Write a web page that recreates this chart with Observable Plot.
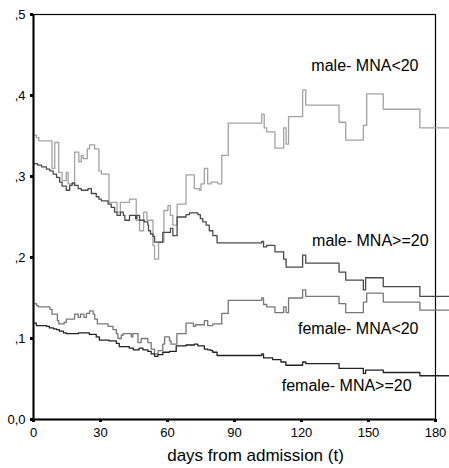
<!DOCTYPE html>
<html><head><meta charset="utf-8">
<script src="https://cdn.jsdelivr.net/npm/d3@7"></script>
<script src="https://cdn.jsdelivr.net/npm/@observablehq/plot@0.6"></script>
<style>
body{margin:0;background:#fff;}
#chart svg{display:block;}
</style>
</head><body><div id="chart"></div>
<script>
// Series names (as labelled in the chart)
const seriesNames = ["male- MNA<20", "male- MNA>=20", "female- MNA<20", "female- MNA>=20"];
const seriesColors = ["#a3a3a3", "#4a4a4a", "#777777", "#222222"];

// days from admission (t) and values for each curve (step functions)
const maleLowT = [0,1.3,2.4,8.3,9.5,11.3,12.8,14.7,15.5,18.4,20.3,21.4,22.2,24.1,25.1,27.4,29.3,30.4,33.8,37.4,38.9,43.0,46.0,47.5,49.3,50.8,53.5,54.2,56.0,58.4,60.2,61.3,62.4,64.3,68.3,72.0,74.3,75.0,76.5,78.0,79.5,82.5,84.3,87.2,102.2,103.3,104.4,108.1,112.0,113.1,114.2,120.5,121.9,136.8,139.8,147.7,149.2,156.6,173.0,186.2];
const maleLowV = [.351,.348,.344,.310,.342,.305,.295,.305,.291,.330,.318,.326,.322,.334,.339,.334,.307,.303,.268,.256,.268,.272,.246,.233,.256,.246,.215,.198,.219,.258,.264,.252,.240,.266,.302,.285,.283,.291,.310,.291,.293,.291,.326,.366,.377,.360,.355,.335,.360,.340,.374,.407,.388,.367,.345,.363,.402,.383,.360,.360];

const maleHighT = [0,1.8,3.6,5.8,7.3,8.8,10.3,11.7,12.8,14.7,16.2,17.3,18.4,20.0,21.4,24.4,25.9,28.1,29.3,30.4,33.4,34.8,36.3,37.4,38.9,40.2,40.9,43.0,45.7,46.3,47.5,49.6,51.2,51.5,52.4,53.5,54.2,57.9,61.3,62.4,64.3,68.3,69.8,73.6,74.7,75.8,77.3,78.7,80.3,82.2,102.2,103.0,104.4,108.1,112.0,113.1,120.5,121.9,136.8,139.8,147.7,148.7,156.6,173.0,186.2];
const maleHighV = [.316,.314,.312,.309,.307,.303,.299,.293,.288,.283,.289,.292,.289,.285,.283,.285,.279,.275,.272,.270,.266,.262,.256,.252,.256,.252,.246,.252,.248,.252,.246,.244,.240,.233,.229,.226,.219,.231,.236,.227,.250,.253,.255,.253,.248,.244,.240,.233,.227,.218,.220,.213,.215,.207,.198,.188,.203,.193,.182,.172,.160,.175,.164,.152,.152];

const femaleLowT = [0,1.3,2.1,7.3,8.3,10.7,11.3,13.7,14.7,18.4,20.0,21.1,22.6,23.7,25.1,26.7,27.4,28.6,33.4,35.6,37.1,37.8,39.3,40.1,43.8,44.5,46.8,48.2,51.2,52.7,54.2,55.8,57.9,58.7,60.9,61.6,64.2,68.3,71.6,72.5,76.5,78.0,80.3,84.3,87.2,102.2,103.0,104.4,108.1,112.0,113.1,114.2,120.5,121.9,136.8,139.8,147.7,149.2,156.6,173.0,186.2];
const femaleLowV = [.143,.141,.139,.136,.130,.122,.118,.120,.124,.130,.126,.130,.126,.131,.134,.130,.124,.118,.115,.111,.106,.100,.104,.106,.102,.106,.095,.100,.095,.087,.081,.085,.093,.102,.097,.093,.106,.119,.115,.117,.122,.116,.118,.131,.147,.150,.142,.139,.132,.139,.132,.150,.160,.152,.143,.132,.145,.156,.145,.135,.135];

const femaleHighT = [0,1.3,5.8,7.1,8.9,10.3,11.6,13.4,14.7,20.1,25.0,28.1,29.5,33.9,37.1,38.4,42.9,44.7,47.3,49.0,51.2,52.7,54.2,55.7,57.9,60.9,63.9,68.3,72.0,73.6,76.5,78.0,79.5,80.3,82.2,102.2,103.0,107.1,110.8,113.0,120.5,121.9,136.8,147.7,148.7,156.6,173.0,186.2];
const femaleHighV = [.119,.116,.115,.113,.112,.111,.109,.107,.106,.107,.105,.102,.098,.097,.094,.090,.088,.086,.088,.086,.084,.081,.078,.080,.083,.084,.091,.092,.093,.091,.087,.086,.085,.083,.079,.081,.076,.074,.071,.067,.071,.069,.063,.057,.061,.058,.054,.054];

// Axis ticks and labels
const xTicks = [0, 30, 60, 90, 120, 150, 180];
const yTicks = [0, 0.1, 0.2, 0.3, 0.4, 0.5];
const yTickLabels = ["0,0", ",1", ",2", ",3", ",4", ",5"];
const xLabel = "days from admission (t)";

// curve label anchors (data units)
const labelT = [172.4, 176.9, 172.4, 169.3];
const labelV = [0.436, 0.221, 0.112, 0.042];

const seriesT = [maleLowT, maleHighT, femaleLowT, femaleHighT];
const seriesV = [maleLowV, maleHighV, femaleLowV, femaleHighV];
const rows = seriesNames.flatMap((name, i) => seriesT[i].map((t, j) => ({series: name, t, v: seriesV[i][j]})));
const labels = seriesNames.map((name, i) => ({name, t: labelT[i], v: labelV[i]}));

const font = "'Liberation Sans', Arial, Helvetica, sans-serif";

const chart = Plot.plot({
  width: 449,
  height: 468,
  marginLeft: 33,
  marginRight: 14,
  marginTop: 14,
  marginBottom: 49,
  style: {fontFamily: font, background: "#fff", color: "#000"},
  x: {domain: [0, 180]},
  y: {domain: [0, 0.5]},
  color: {domain: seriesNames, range: seriesColors},
  marks: [
    Plot.frame({stroke: "#000", strokeWidth: 1.2}),
    Plot.line(rows, {x: "t", y: "v", z: "series", stroke: "series", curve: "step-after", strokeWidth: 1.3}),
    Plot.ruleX([0], {stroke: "#000", strokeWidth: 2}),
    Plot.ruleY([0], {stroke: "#000", strokeWidth: 2}),
    Plot.axisX({ticks: xTicks, tickSize: 3, strokeWidth: 3, tickPadding: 5, fontSize: 13, label: null, tickFormat: d => String(d)}),
    Plot.axisY({ticks: yTicks, tickSize: 3, strokeWidth: 3, tickPadding: 5, fontSize: 13, label: null, tickFormat: d => yTickLabels[yTicks.indexOf(d)] ?? ""}),
    Plot.text(labels, {x: "t", y: "v", text: "name", textAnchor: "end", fontSize: 16, fill: "#000"}),
    Plot.text([xLabel], {frameAnchor: "bottom", dx: 21, dy: 41, fontSize: 17, fill: "#000"})
  ]
});
document.getElementById("chart").appendChild(chart);
</script>
</body></html>
